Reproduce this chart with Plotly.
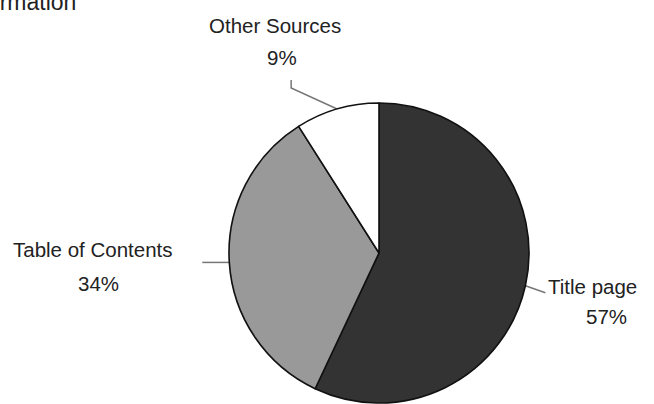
import math
import plotly.graph_objects as go

# ---- data ----
labels = ["Title page", "Table of Contents", "Other Sources"]
values = [57, 34, 9]
colors = ["#333333", "#999999", "#ffffff"]
title_text = "Sources of Information"

# ---- layout geometry (pixels) ----
W, H = 654, 404
cx, cy, r = 379, 253, 150

def px(x):
    return x / W

def py(y):
    return 1 - y / H

fig = go.Figure()
fig.add_trace(go.Pie(
    labels=labels,
    values=values,
    sort=False,
    direction="clockwise",
    rotation=0,
    textinfo="none",
    hoverinfo="label+percent",
    marker=dict(colors=colors, line=dict(color="#111111", width=1.6)),
    domain=dict(x=[px(cx - r), px(cx + r)], y=[py(cy + r), py(cy - r)]),
    showlegend=False,
))

# label placement (layout only): name centre, percent centre, leader outer offsets
label_pos = {
    "Title page": dict(name=(592, 286), pct=(606, 316), leg=[(20, 7)]),
    "Table of Contents": dict(name=(93, 249), pct=(98, 283), leg=[(-27, 0)]),
    "Other Sources": dict(name=(275, 25), pct=(282, 57), leg=[(-46, -21), (-46, -29)]),
}

total = sum(values)
cum = 0
font = dict(family="Liberation Sans, Arial, sans-serif", size=20.5, color="#222222")
for lab, val in zip(labels, values):
    mid = (cum + val / 2) / total * 2 * math.pi
    cum += val
    ex = cx + r * math.sin(mid)
    ey = cy - r * math.cos(mid)
    pts = [(ex, ey)] + [(ex + dx, ey + dy) for dx, dy in label_pos[lab]["leg"]]
    path = "M " + " L ".join(f"{px(x):.5f},{py(y):.5f}" for x, y in pts)
    fig.add_shape(type="path", path=path, xref="paper", yref="paper",
                  line=dict(color="#777777", width=1.5), layer="below")
    nx, ny = label_pos[lab]["name"]
    fig.add_annotation(x=px(nx), y=py(ny), xref="paper", yref="paper", text=lab,
                       showarrow=False, xanchor="center", yanchor="middle", font=font)
    qx, qy = label_pos[lab]["pct"]
    fig.add_annotation(x=px(qx), y=py(qy), xref="paper", yref="paper",
                       text=f"{round(val / total * 100)}%",
                       showarrow=False, xanchor="center", yanchor="middle", font=font)

fig.add_annotation(x=px(78), y=py(2), xref="paper", yref="paper", text=title_text,
                   showarrow=False, xanchor="right", yanchor="middle",
                   font=dict(family="Liberation Sans, Arial, sans-serif", size=23, color="#222222"))

fig.update_layout(
    width=W, height=H,
    margin=dict(l=0, r=0, t=0, b=0),
    paper_bgcolor="white",
    plot_bgcolor="white",
)

fig.write_html("out.html")
